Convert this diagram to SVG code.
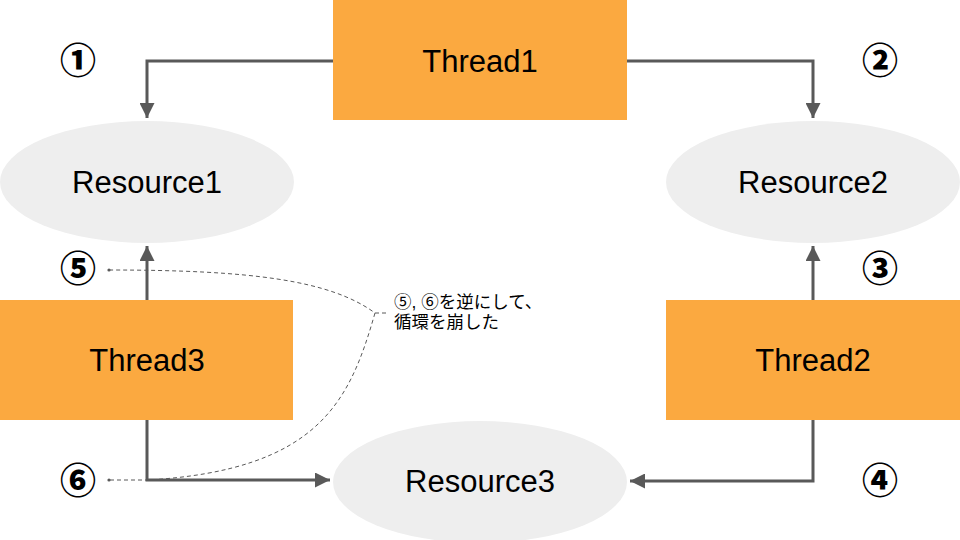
<svg xmlns="http://www.w3.org/2000/svg" width="960" height="540" viewBox="0 0 960 540">
<defs>
<marker id="ah" viewBox="0 0 10 10" refX="10" refY="5" markerWidth="5" markerHeight="5" markerUnits="strokeWidth" orient="auto">
<path d="M0,0 L10,5 L0,10 Z" fill="#595959"/>
</marker>
<marker id="dot" viewBox="0 0 4 4" refX="2" refY="2" markerWidth="4" markerHeight="4" markerUnits="userSpaceOnUse">
<circle cx="2" cy="2" r="1.6" fill="#595959"/>
</marker>
</defs>
<style>
.th{fill:#FBA940}
.rs{fill:#EEEEEE}
.lbl{font-family:"Liberation Sans",Arial,sans-serif;font-size:31px;fill:#000;text-anchor:middle}
.num{font-family:"Noto Sans CJK JP",sans-serif;font-size:36px;font-weight:900;fill:#000;text-anchor:middle}
.note{font-family:"Liberation Sans","Noto Sans CJK JP",sans-serif;font-size:17.5px;fill:#000}
.c{fill:none;stroke:#595959;stroke-width:3}
.d{fill:none;stroke:#595959;stroke-width:1;stroke-dasharray:4,3}
</style>
<rect width="960" height="540" fill="#fff"/>
<g id="connectors">
<path class="c" d="M333,61 H147 V118" marker-end="url(#ah)"/>
<path class="c" d="M627,61 H813 V118" marker-end="url(#ah)"/>
<path class="c" d="M813,300 V246" marker-end="url(#ah)"/>
<path class="c" d="M813,420 V481 H630" marker-end="url(#ah)"/>
<path class="c" d="M147,300 V246" marker-end="url(#ah)"/>
<path class="c" d="M147,420 V480 H330" marker-end="url(#ah)"/>
</g>
<g id="resource1"><ellipse class="rs" cx="147" cy="182" rx="147" ry="61"/><text class="lbl" x="147" y="193">Resource1</text></g>
<g id="resource2"><ellipse class="rs" cx="813" cy="182" rx="147" ry="61"/><text class="lbl" x="813" y="193">Resource2</text></g>
<g id="resource3"><ellipse class="rs" cx="480" cy="482" rx="147" ry="61"/><text class="lbl" x="480" y="492">Resource3</text></g>
<g id="thread1"><rect class="th" x="333" y="0" width="294" height="120"/><text class="lbl" x="480" y="72">Thread1</text></g>
<g id="thread2"><rect class="th" x="666" y="300" width="294" height="120"/><text class="lbl" x="813" y="371">Thread2</text></g>
<g id="thread3"><rect class="th" x="0" y="300" width="293" height="120"/><text class="lbl" x="147" y="371">Thread3</text></g>
<g id="labels">
<text class="num" x="78" y="74">①</text>
<text class="num" x="880" y="74">②</text>
<text class="num" x="880" y="282">③</text>
<text class="num" x="880" y="494">④</text>
<text class="num" x="78" y="282">⑤</text>
<text class="num" x="78" y="494">⑥</text>
</g>
<g id="annotation">
<path class="d" d="M109,270 C250,270 330,280 375,313" marker-start="url(#dot)"/>
<path class="d" d="M375,313 H387"/>
<path class="d" d="M375,313 C350,400 320,470 148,480 H109" marker-end="url(#dot)"/>
<text class="note" x="394" y="308">⑤, ⑥を逆にして、</text>
<text class="note" x="394" y="328">循環を崩した</text>
</g>
</svg>
